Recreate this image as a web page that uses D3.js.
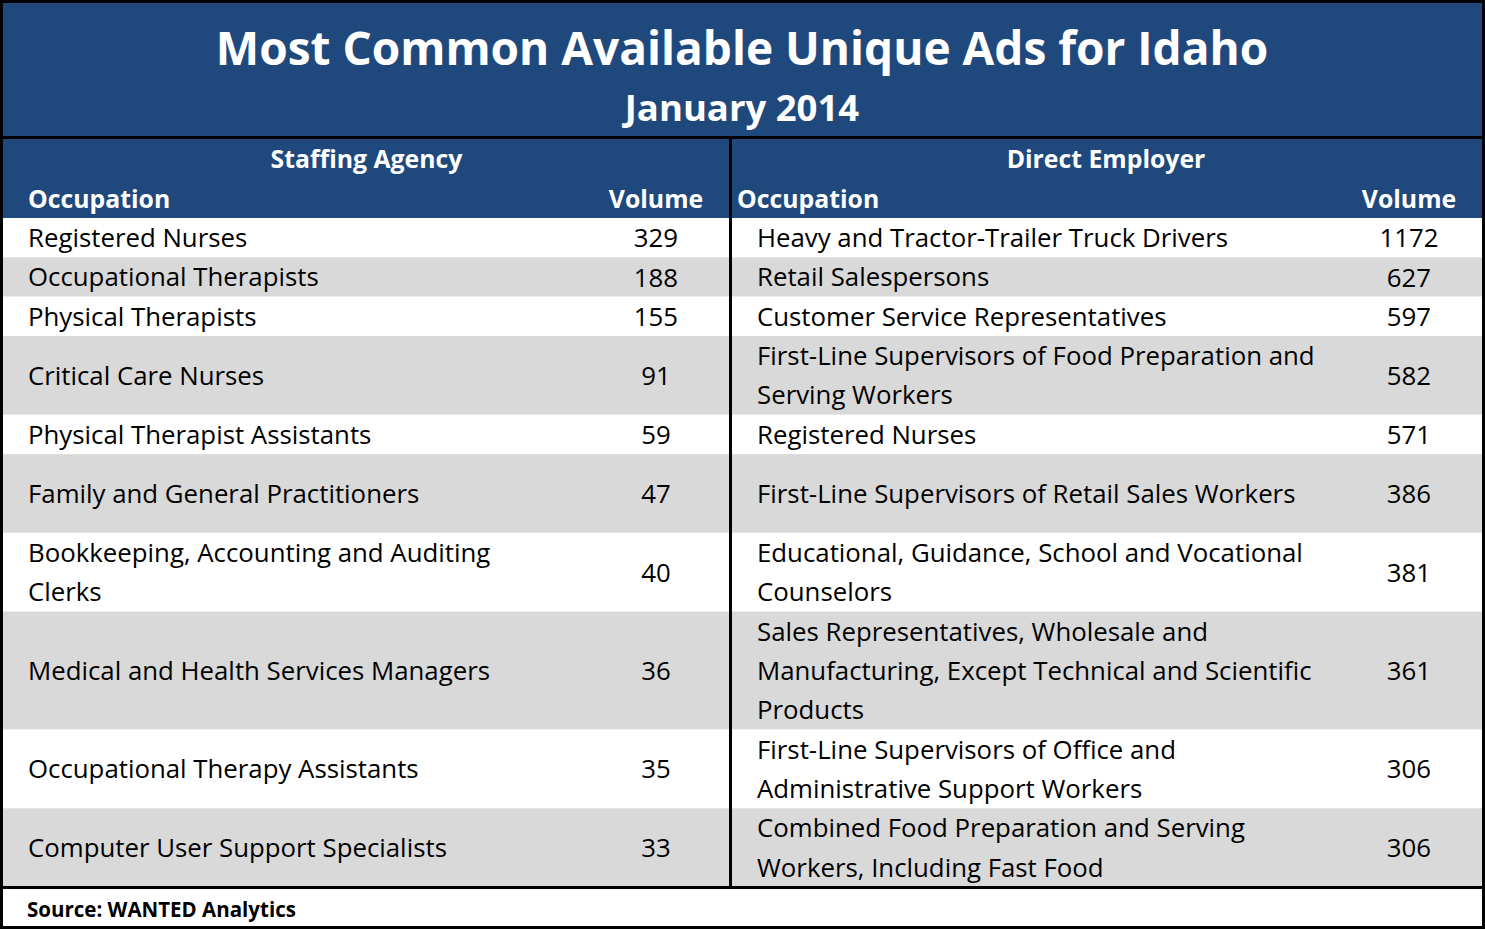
<!DOCTYPE html>
<html>
<head>
<meta charset="utf-8">
<script src="https://cdn.jsdelivr.net/npm/d3@7"></script>
<style>
  body { margin: 0; background: #fff; }
  text { font-family: "Open Sans", Lato, sans-serif; }
</style>
</head>
<body>
<div id="chart"></div>
<script>
// table content
var title = "Most Common Available Unique Ads for Idaho"
var subtitle = "January 2014"
var groups = ["Staffing Agency", "Direct Employer"]
var colHeaders = ["Occupation", "Volume"]

var staffingOcc = [
    ["Registered Nurses"],
    ["Occupational Therapists"],
    ["Physical Therapists"],
    ["Critical Care Nurses"],
    ["Physical Therapist Assistants"],
    ["Family and General Practitioners"],
    ["Bookkeeping, Accounting and Auditing", "Clerks"],
    ["Medical and Health Services Managers"],
    ["Occupational Therapy Assistants"],
    ["Computer User Support Specialists"]
]
var staffingVol = [329, 188, 155, 91, 59, 47, 40, 36, 35, 33]

var directOcc = [
    ["Heavy and Tractor-Trailer Truck Drivers"],
    ["Retail Salespersons"],
    ["Customer Service Representatives"],
    ["First-Line Supervisors of Food Preparation and", "Serving Workers"],
    ["Registered Nurses"],
    ["First-Line Supervisors of Retail Sales Workers"],
    ["Educational, Guidance, School and Vocational", "Counselors"],
    ["Sales Representatives, Wholesale and", "Manufacturing, Except Technical and Scientific", "Products"],
    ["First-Line Supervisors of Office and", "Administrative Support Workers"],
    ["Combined Food Preparation and Serving", "Workers, Including Fast Food"]
]
var directVol = [1172, 627, 597, 582, 571, 386, 381, 361, 306, 306]

// row heights in text lines (as in the spreadsheet)
var rowSpans = [1, 1, 1, 2, 1, 2, 2, 3, 2, 2]

var source = "Source: WANTED Analytics"

var width = 1485, height = 929
var blue = "#1f497d", grey = "#d9d9d9"
var tableTop = 218, tableBottom = 887, divX = 730
var bodySize = "25.8px", headSize = "24.8px"

var svg = d3.select("#chart").append("svg")
    .attr("width", width)
    .attr("height", height)

svg.append("rect").attr("width", width).attr("height", height).attr("fill", "#fff")

// title band
svg.append("rect").attr("x", 0).attr("y", 0).attr("width", width).attr("height", 218).attr("fill", blue)

svg.append("text")
    .attr("x", 742).attr("y", 65)
    .attr("text-anchor", "middle")
    .attr("font-size", "46px").attr("font-weight", "bold").attr("fill", "#fff")
    .text(title)

svg.append("text")
    .attr("x", 742).attr("y", 121)
    .attr("text-anchor", "middle")
    .attr("font-size", "36.5px").attr("font-weight", "bold").attr("fill", "#fff")
    .text(subtitle)

// cumulative line positions -> y scale
var cum = [0]
rowSpans.forEach((s, i) => cum.push(cum[i] + s))
var y = d3.scaleLinear().domain([0, cum[cum.length - 1]]).range([tableTop, tableBottom])
var lineH = y(1) - y(0)

// two column blocks
var cols = [
    {x0: 3, x1: divX, textX: 28, volX: 656, occ: staffingOcc, vol: staffingVol, headX: 28},
    {x0: divX, x1: 1482, textX: 757, volX: 1409, occ: directOcc, vol: directVol, headX: 737}
]

// row backgrounds
svg.append("g").selectAll("rect")
    .data(rowSpans)
    .enter().append("rect")
    .attr("x", 3)
    .attr("y", (d, i) => y(cum[i]))
    .attr("width", 1479)
    .attr("height", (d, i) => y(cum[i + 1]) - y(cum[i]))
    .attr("fill", (d, i) => i % 2 ? grey : "#fff")

cols.forEach((c, ci) => {
    // group header
    svg.append("text")
        .attr("x", (c.x0 + c.x1) / 2).attr("y", 168)
        .attr("text-anchor", "middle")
        .attr("font-size", headSize).attr("font-weight", "bold").attr("fill", "#fff")
        .text(groups[ci])
    svg.append("text")
        .attr("x", c.headX).attr("y", 208)
        .attr("font-size", headSize).attr("font-weight", "bold").attr("fill", "#fff")
        .text(colHeaders[0])
    svg.append("text")
        .attr("x", c.volX).attr("y", 208)
        .attr("text-anchor", "middle")
        .attr("font-size", headSize).attr("font-weight", "bold").attr("fill", "#fff")
        .text(colHeaders[1])

    var g = svg.append("g")
    // occupations, centred vertically in their row
    g.selectAll("text.occ")
        .data(c.occ)
        .enter().append("text")
        .attr("class", "occ")
        .attr("font-size", bodySize).attr("fill", "#000")
        .each(function (lines, i) {
            var top = y(cum[i]) + (rowSpans[i] - lines.length) / 2 * lineH
            d3.select(this).selectAll("tspan")
                .data(lines)
                .enter().append("tspan")
                .attr("x", c.textX)
                .attr("y", (l, j) => top + j * lineH + 29)
                .text(l => l)
        })

    g.selectAll("text.vol")
        .data(c.vol)
        .enter().append("text")
        .attr("class", "vol")
        .attr("x", c.volX)
        .attr("y", (d, i) => y(cum[i]) + rowSpans[i] / 2 * lineH + 9.5)
        .attr("text-anchor", "middle")
        .attr("font-size", bodySize).attr("fill", "#000")
        .text(d => d)
})

// rules
svg.append("rect").attr("x", 0).attr("y", 136).attr("width", width).attr("height", 3).attr("fill", "#000")
svg.append("rect").attr("x", divX - 1).attr("y", 139).attr("width", 3).attr("height", tableBottom - 139).attr("fill", "#000")
svg.append("rect").attr("x", 0).attr("y", tableBottom - 1).attr("width", width).attr("height", 3).attr("fill", "#000")
svg.append("rect").attr("x", 1.5).attr("y", 1.5).attr("width", width - 3).attr("height", height - 3)
    .attr("fill", "none").attr("stroke", "#000").attr("stroke-width", 3)

svg.append("text")
    .attr("x", 27).attr("y", 917)
    .attr("font-size", "20.5px").attr("font-weight", "bold").attr("fill", "#000")
    .text(source)
</script>
</body>
</html>
